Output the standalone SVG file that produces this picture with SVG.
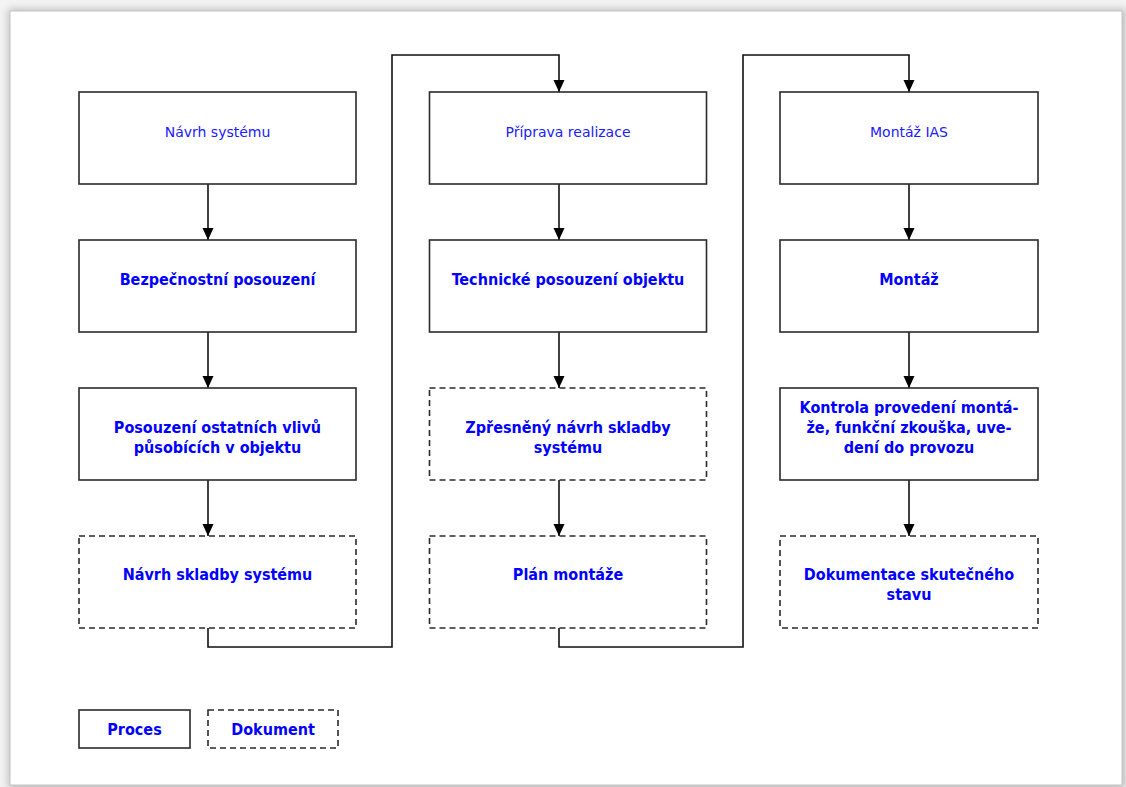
<svg xmlns="http://www.w3.org/2000/svg" width="1126" height="787" viewBox="0 0 1126 787">
  <defs>
    <style>
      .box { fill: #ffffff; stroke: #2a2a2a; stroke-width: 1.6; }
      .doc { fill: #ffffff; stroke: #2a2a2a; stroke-width: 1.6; stroke-dasharray: 6 4; }
      .conn { fill: none; stroke: #111111; stroke-width: 1.6; }
      .t { font-family: "DejaVu Sans", Verdana, sans-serif; font-size: 14px; fill: #2020ff; text-anchor: middle; }
      .b { font-family: "DejaVu Sans Condensed", "DejaVu Sans", Verdana, sans-serif; font-stretch: condensed; font-size: 16px; font-weight: bold; fill: #0000ff; text-anchor: middle; }
    </style>
    <marker id="arr" markerUnits="userSpaceOnUse" markerWidth="12" markerHeight="12" refX="12" refY="5.5" orient="auto">
      <path d="M0,0 L12,5.5 L0,11 Z" fill="#000000"/>
    </marker>
    <filter id="shadow" x="-5%" y="-5%" width="110%" height="110%">
      <feGaussianBlur stdDeviation="4"/>
    </filter>
  </defs>

  <!-- page background -->
  <rect x="0" y="0" width="1126" height="787" fill="#f4f4f4"/>
  <rect x="8" y="9" width="1118" height="780" fill="#bdbdbd" filter="url(#shadow)"/>
  <rect x="10" y="11" width="1112" height="774" fill="#ffffff" stroke="#c4c4c4" stroke-width="1"/>

  <!-- connectors -->
  <g id="connectors">
    <path class="conn" d="M208,184 V240" marker-end="url(#arr)"/>
    <path class="conn" d="M208,332 V388" marker-end="url(#arr)"/>
    <path class="conn" d="M208,480 V536" marker-end="url(#arr)"/>
    <path class="conn" d="M559,184 V240" marker-end="url(#arr)"/>
    <path class="conn" d="M559,332 V388" marker-end="url(#arr)"/>
    <path class="conn" d="M559,480 V536" marker-end="url(#arr)"/>
    <path class="conn" d="M909,184 V240" marker-end="url(#arr)"/>
    <path class="conn" d="M909,332 V388" marker-end="url(#arr)"/>
    <path class="conn" d="M909,480 V536" marker-end="url(#arr)"/>
    <path class="conn" d="M208,628 V647 H392 V55 H559 V92" marker-end="url(#arr)"/>
    <path class="conn" d="M559,628 V647 H743 V55 H909 V92" marker-end="url(#arr)"/>
  </g>

  <!-- column 1 -->
  <g id="navrh-systemu">
    <rect class="box" x="79" y="92" width="277" height="92"/>
    <text class="t" x="217.5" y="137">Návrh systému</text>
  </g>
  <g id="bezpecnostni-posouzeni">
    <rect class="box" x="79" y="240" width="277" height="92"/>
    <text class="b" x="217.5" y="284.5">Bezpečnostní posouzení</text>
  </g>
  <g id="posouzeni-vlivu">
    <rect class="box" x="79" y="388" width="277" height="92"/>
    <text class="b" x="217.5" y="433">Posouzení ostatních vlivů</text>
    <text class="b" x="217.5" y="453">působících v objektu</text>
  </g>
  <g id="navrh-skladby">
    <rect class="doc" x="79" y="536" width="277" height="92"/>
    <text class="b" x="217.5" y="580">Návrh skladby systému</text>
  </g>

  <!-- column 2 -->
  <g id="priprava-realizace">
    <rect class="box" x="429.5" y="92" width="277" height="92"/>
    <text class="t" x="568" y="137">Příprava realizace</text>
  </g>
  <g id="technicke-posouzeni">
    <rect class="box" x="429.5" y="240" width="277" height="92"/>
    <text class="b" x="568" y="284.5">Technické posouzení objektu</text>
  </g>
  <g id="zpresneny-navrh">
    <rect class="doc" x="429.5" y="388" width="277" height="92"/>
    <text class="b" x="568" y="433">Zpřesněný návrh skladby</text>
    <text class="b" x="568" y="453">systému</text>
  </g>
  <g id="plan-montaze">
    <rect class="doc" x="429.5" y="536" width="277" height="92"/>
    <text class="b" x="568" y="580">Plán montáže</text>
  </g>

  <!-- column 3 -->
  <g id="montaz-ias">
    <rect class="box" x="780" y="92" width="258" height="92"/>
    <text class="t" x="909" y="137">Montáž IAS</text>
  </g>
  <g id="montaz">
    <rect class="box" x="780" y="240" width="258" height="92"/>
    <text class="b" x="909" y="284.5">Montáž</text>
  </g>
  <g id="kontrola">
    <rect class="box" x="780" y="388" width="258" height="92"/>
    <text class="b" x="909" y="413">Kontrola provedení montá-</text>
    <text class="b" x="909" y="433">že, funkční zkouška, uve-</text>
    <text class="b" x="909" y="453">dení do provozu</text>
  </g>
  <g id="dokumentace">
    <rect class="doc" x="780" y="536" width="258" height="92"/>
    <text class="b" x="909" y="580">Dokumentace skutečného</text>
    <text class="b" x="909" y="600">stavu</text>
  </g>

  <!-- legend -->
  <g id="legend-proces">
    <rect class="box" x="79" y="710" width="111" height="38"/>
    <text class="b" x="134.5" y="735">Proces</text>
  </g>
  <g id="legend-dokument">
    <rect class="doc" x="208" y="710" width="130" height="38"/>
    <text class="b" x="273" y="735">Dokument</text>
  </g>
</svg>
